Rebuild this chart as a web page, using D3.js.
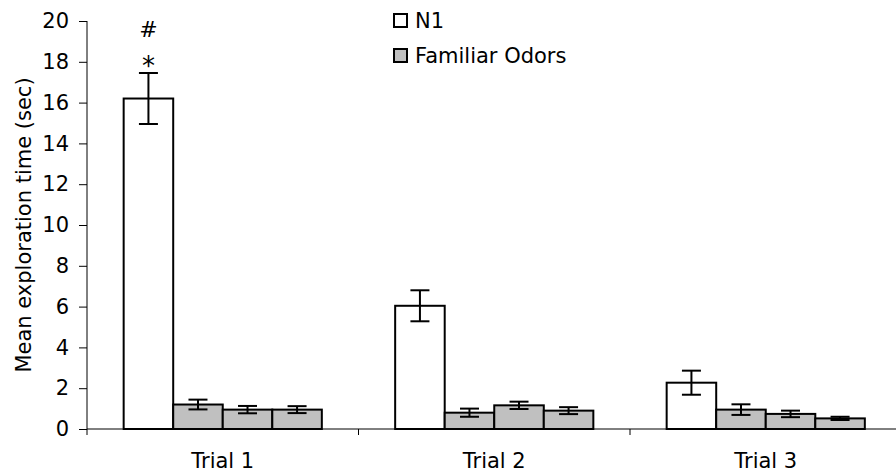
<!DOCTYPE html>
<html>
<head>
<meta charset="utf-8">
<script src="https://cdn.jsdelivr.net/npm/d3@7"></script>
<style>
  body { margin: 0; background: #fff; }
  svg text { font-family: "DejaVu Sans", Verdana, sans-serif; fill: #000; }
</style>
</head>
<body>
<div id="viz"></div>
<script>
// data
const trials = ["Trial 1", "Trial 2", "Trial 3"];
const odors = ["N1", "F1", "F2", "F3"];
const means = [
  [16.2, 1.2, 0.95, 0.95],
  [6.04, 0.8, 1.16, 0.9],
  [2.27, 0.95, 0.74, 0.52]
];
const errs = [
  [1.25, 0.24, 0.18, 0.17],
  [0.76, 0.2, 0.18, 0.17],
  [0.59, 0.26, 0.16, 0.08]
];
const yTicks = [0, 2, 4, 6, 8, 10, 12, 14, 16, 18, 20];
const legendItems = [["N1", "#ffffff"], ["Familiar Odors", "#c0c0c0"]];
const marks = ["#", "*"];

const W = 896, H = 473;
const M = {left: 87};
const FS = 21;

const svg = d3.select("#viz").append("svg")
  .attr("width", W)
  .attr("height", H);

const y = d3.scaleLinear().domain([0, 20]).range([429, 21]);
const x = d3.scaleBand().domain(trials).range([87, 901.5]);
const xi = d3.scaleBand().domain(odors).range([0, x.bandwidth()]).paddingOuter(0.74);

const fill = d => d === "N1" ? "#ffffff" : "#c0c0c0";

// y axis
const yAxis = svg.append("g")
  .attr("transform", `translate(${M.left},0)`)
  .call(d3.axisLeft(y).tickValues(yTicks).tickSize(8).tickPadding(10));
yAxis.attr("font-size", FS).attr("font-family", null);
yAxis.select(".domain").attr("d", `M0,${y(20)}V435`).attr("stroke", "#000");

// x axis
const xAxis = svg.append("g")
  .attr("transform", `translate(0,${y(0)})`)
  .call(d3.axisBottom(x).tickSize(0).tickPadding(24));
xAxis.attr("font-size", FS).attr("font-family", null);
xAxis.select(".domain").attr("d", `M${M.left},0H${W}`).attr("stroke", "#000");
const bounds = trials.slice(1).map(t => x(t));
xAxis.selectAll(".sep").data(bounds).enter().append("line")
  .attr("class", "sep")
  .attr("x1", d => d).attr("x2", d => d)
  .attr("y1", 0).attr("y2", 6)
  .attr("stroke", "#000");

// bars
const groups = svg.selectAll(".grp")
  .data(trials)
  .enter().append("g")
  .attr("class", "grp")
  .attr("transform", d => `translate(${x(d)},0)`);

groups.each(function(t, ti) {
  const g = d3.select(this);
  const rows = odors.map((o, oi) => ({o, v: means[ti][oi], e: errs[ti][oi]}));
  g.selectAll("rect").data(rows).enter().append("rect")
    .attr("x", d => xi(d.o))
    .attr("y", d => y(d.v))
    .attr("width", xi.bandwidth())
    .attr("height", d => y(0) - y(d.v))
    .attr("fill", d => fill(d.o))
    .attr("stroke", "#000")
    .attr("stroke-width", 2);

  const eb = g.selectAll(".eb").data(rows).enter().append("g")
    .attr("class", "eb")
    .attr("stroke", "#000")
    .attr("stroke-width", 2);
  const cx = d => xi(d.o) + xi.bandwidth() / 2;
  eb.append("line")
    .attr("x1", cx).attr("x2", cx)
    .attr("y1", d => y(d.v + d.e)).attr("y2", d => y(d.v - d.e));
  eb.append("line")
    .attr("x1", d => cx(d) - 9.5).attr("x2", d => cx(d) + 9.5)
    .attr("y1", d => y(d.v + d.e)).attr("y2", d => y(d.v + d.e));
  eb.append("line")
    .attr("x1", d => cx(d) - 9.5).attr("x2", d => cx(d) + 9.5)
    .attr("y1", d => y(d.v - d.e)).attr("y2", d => y(d.v - d.e));
});

// significance marks over Trial 1 N1
const n1x = x(trials[0]) + xi("N1") + xi.bandwidth() / 2;
svg.selectAll(".mark").data(marks).enter().append("text")
  .attr("class", "mark")
  .attr("x", n1x)
  .attr("y", (d, i) => i === 0 ? 37 : 75)
  .attr("text-anchor", "middle")
  .attr("font-size", (d, i) => i === 0 ? 22 : 26)
  .text(d => d);

// legend
const leg = svg.selectAll(".leg").data(legendItems).enter().append("g")
  .attr("class", "leg")
  .attr("transform", (d, i) => `translate(394,${14 + i * 35})`);
leg.append("rect")
  .attr("width", 13).attr("height", 13)
  .attr("fill", d => d[1])
  .attr("stroke", "#000").attr("stroke-width", 2);
leg.append("text")
  .attr("x", 21).attr("y", 14)
  .attr("font-size", FS)
  .text(d => d[0]);

// y label
svg.append("text")
  .attr("transform", `translate(31,${y(10)}) rotate(-90)`)
  .attr("text-anchor", "middle")
  .attr("font-size", FS)
  .text("Mean exploration time (sec)");
</script>
</body>
</html>
